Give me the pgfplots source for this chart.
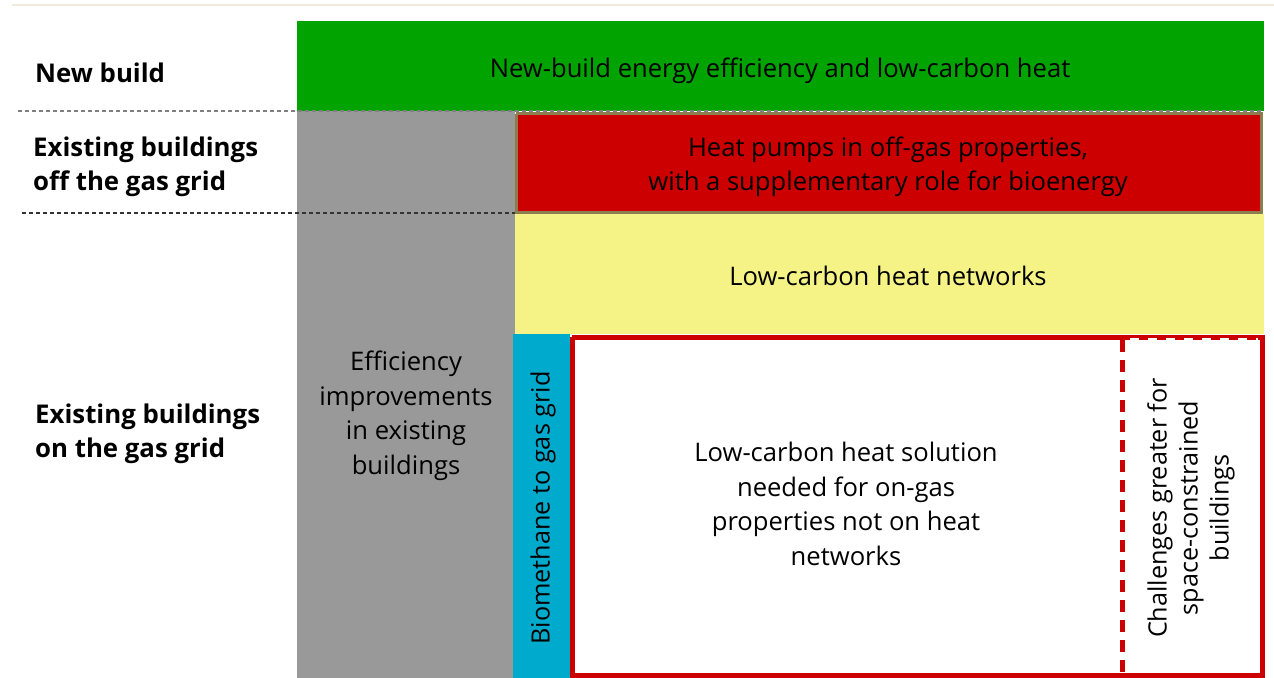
\documentclass[border=0pt]{standalone}
\usepackage{pgfplots}
\pgfplotsset{compat=1.18}
\usepackage{fontspec}
\setmainfont{Open Sans}
\definecolor{cgreen}{RGB}{0,163,0}
\definecolor{cred}{RGB}{204,0,0}
\definecolor{cgray}{RGB}{153,153,153}
\definecolor{cyellow}{RGB}{245,242,134}
\definecolor{cblue}{RGB}{0,170,204}
\definecolor{ckhaki}{RGB}{140,125,80}
\definecolor{cbeige}{RGB}{242,232,222}
\begin{document}
\begin{tikzpicture}
\begin{axis}[width=1274bp,height=678bp,scale only axis,
  xmin=0,xmax=1274,ymin=0,ymax=678,y dir=reverse,hide axis,clip=true]
% background
\addplot[fill=white,draw=none] coordinates {(0,0) (1274,0) (1274,678) (0,678)};
% top line
\addplot[draw=cbeige,line width=1.5bp] coordinates {(12,5) (1274,5)};
% green
\addplot[fill=cgreen,draw=none] coordinates {(297,21) (1264,21) (1264,111) (297,111)};
% gray
\addplot[fill=cgray,draw=none] coordinates {(297,111) (515,111) (515,678) (297,678)};
% red off-gas
\addplot[fill=cred,draw=ckhaki,line width=3bp] coordinates {(516,114) (1261,114) (1261,212) (516,212) (516,114)};
% yellow
\addplot[fill=cyellow,draw=none] coordinates {(515,214) (1264,214) (1264,334) (515,334)};
% blue
\addplot[fill=cblue,draw=none] coordinates {(513,334) (570,334) (570,678) (513,678)};
% red outline box
\addplot[fill=white,draw=cred,line width=5bp,line join=miter] coordinates {(572,337) (1262,337) (1262,675) (572,675) (572,337)};
\addplot[draw=white,line width=2bp,dash pattern=on 9bp off 9bp] coordinates {(1130,338.5) (1258,338.5)};
\addplot[draw=cred,line width=5bp,dash pattern=on 12bp off 8bp] coordinates {(1122,340) (1122,675)};
% dashed separators
\addplot[draw=gray,line width=1.5bp,dash pattern=on 4bp off 3bp] coordinates {(18,111) (1262,111)};
\addplot[draw=black!80,line width=1.5bp,dash pattern=on 4bp off 3bp] coordinates {(22,213) (515,213)};
% texts
\tikzset{txt/.style={font=\fontsize{25.6bp}{34.5bp}\selectfont,align=center,inner sep=0pt}}
\node[txt] at (axis cs:780,71) {New-build energy efficiency and low-carbon heat};
\node[txt] at (axis cs:888,167) {Heat pumps in off-gas properties,\\with a supplementary role for bioenergy};
\node[txt] at (axis cs:888,276) {Low-carbon heat networks};
\node[txt] at (axis cs:406,416) {Efficiency\\improvements\\in existing\\buildings};
\node[txt,font=\fontsize{25.2bp}{34.5bp}\selectfont,rotate=90] at (axis cs:543,508) {Biomethane to gas grid};
\node[txt] at (axis cs:846,504) {Low-carbon heat solution\\needed for on-gas\\properties not on heat\\networks};
\node[txt,font=\fontsize{25.2bp}{31bp}\selectfont,rotate=90] at (axis cs:1191,508) {Challenges greater for\\space-constrained\\buildings};
\tikzset{lbl/.style={font=\bfseries\fontsize{25.8bp}{34.5bp}\selectfont,align=left,anchor=west,inner sep=0pt}}
\node[lbl] at (axis cs:35,73) {New build};
\node[lbl] at (axis cs:33,167) {Existing buildings\\off the gas grid};
\node[lbl] at (axis cs:35,434) {Existing buildings\\on the gas grid};
\end{axis}
\end{tikzpicture}
\end{document}
